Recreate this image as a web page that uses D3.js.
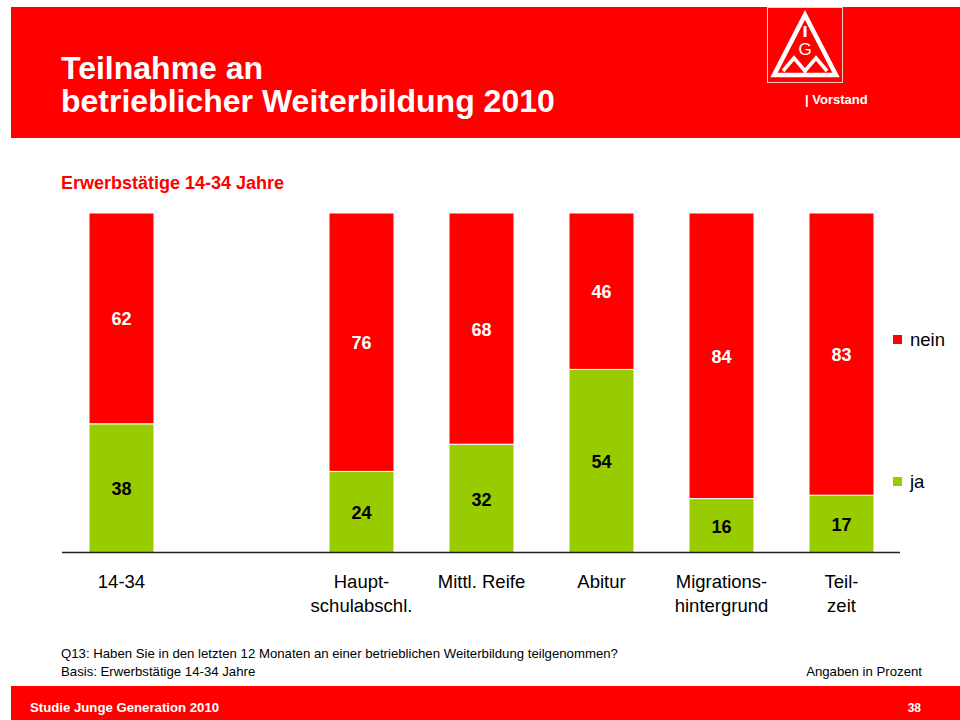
<!DOCTYPE html>
<meta charset="utf-8">
<style>
  body { margin: 0; }
  text { font-family: "Liberation Sans", Arial, sans-serif; }
  .val { font-size: 18px; font-weight: bold; text-anchor: middle; }
  .cat { font-size: 18.5px; fill: #000; text-anchor: middle; }
</style>
<body>
<script src="https://d3js.org/d3.v7.min.js"></script>
<script>

var width = 960,
    height = 720;

var categories = ["14-34", "Haupt-\nschulabschl.", "Mittl. Reife", "Abitur", "Migrations-\nhintergrund", "Teil-\nzeit"];
var ja   = [38, 24, 32, 54, 16, 17];
var nein = [62, 76, 68, 46, 84, 83];
var series = ["nein", "ja"];

var red = "#ff0000",
    green = "#99cc00";

var svg = d3.select("body").append("svg")
  .attr("width", width)
  .attr("height", height);

// header band
svg.append("rect").attr("x", 11).attr("y", 7).attr("width", width - 11).attr("height", 131).attr("fill", red);

svg.append("text").attr("x", 61).attr("y", 79)
  .style("font-size", "32px").style("font-weight", "bold").attr("fill", "#fff")
  .text("Teilnahme an");
svg.append("text").attr("x", 61).attr("y", 112)
  .style("font-size", "32px").style("font-weight", "bold").attr("fill", "#fff")
  .text("betrieblicher Weiterbildung 2010");

// logo
var logo = svg.append("g");
logo.append("rect").attr("x", 767.5).attr("y", 7.5).attr("width", 75).attr("height", 75)
  .attr("fill", "none").attr("stroke", "#fff").attr("stroke-opacity", 0.8).attr("stroke-width", 1);
logo.append("path").attr("d", "M805,15 L836,75 L774,75 Z")
  .attr("fill", "none").attr("stroke", "#fff").attr("stroke-width", 4.5).attr("stroke-linejoin", "miter");
logo.append("rect").attr("x", 803.5).attr("y", 26).attr("width", 3).attr("height", 11).attr("fill", "#fff");
logo.append("text").attr("x", 805).attr("y", 55).attr("text-anchor", "middle")
  .style("font-size", "17px").attr("fill", "#fff").text("G");
logo.append("path").attr("d", "M783,71 L794,58 L805,71 L816,58 L827,71")
  .attr("fill", "none").attr("stroke", "#fff").attr("stroke-width", 3.5);
svg.append("text").attr("x", 805).attr("y", 104)
  .style("font-size", "13px").style("font-weight", "bold").attr("fill", "#fff")
  .text("| Vorstand");

// subtitle
svg.append("text").attr("x", 61).attr("y", 189)
  .style("font-size", "18px").style("font-weight", "bold").attr("fill", red)
  .text("Erwerbstätige 14-34 Jahre");

// scales: an empty slot between the total and the subgroups
var slots = [categories[0], "__gap__"].concat(categories.slice(1));

var x = d3.scaleBand()
  .domain(slots)
  .range([61.5, 901.5])
  .paddingInner(55 / 120)
  .paddingOuter(27.5 / 120);

var y = d3.scaleLinear()
  .domain([0, 100])
  .range([553, 213]);

var rows = categories.map(function(c, i) {
  return { cat: c, ja: ja[i], nein: nein[i] };
});

var stacked = d3.stack().keys(["ja", "nein"])(rows);
var color = { ja: green, nein: red };
var labelColor = { ja: "#000", nein: "#fff" };

stacked.forEach(function(layer) {
  var g = svg.append("g");
  g.selectAll("rect")
    .data(layer)
    .enter().append("rect")
      .attr("x", function(d) { return x(d.data.cat); })
      .attr("width", x.bandwidth())
      .attr("y", function(d) { return y(d[1]); })
      .attr("height", function(d) { return y(d[0]) - y(d[1]); })
      .attr("fill", color[layer.key])
      .attr("stroke", "#fff")
      .attr("stroke-width", 1);
  g.selectAll("text")
    .data(layer)
    .enter().append("text")
      .attr("class", "val")
      .attr("fill", labelColor[layer.key])
      .attr("x", function(d) { return x(d.data.cat) + x.bandwidth() / 2; })
      .attr("y", function(d) { return (y(d[0]) + y(d[1])) / 2 + 7; })
      .text(function(d) { return d.data[layer.key]; });
});

// baseline
svg.append("line")
  .attr("x1", 62).attr("x2", 900)
  .attr("y1", y(0) - 0.5).attr("y2", y(0) - 0.5)
  .attr("stroke", "#222").attr("stroke-width", 1.3);

// category labels
svg.selectAll("text.cat")
  .data(categories)
  .enter().append("text")
    .attr("class", "cat")
    .attr("x", function(d) { return x(d) + x.bandwidth() / 2; })
    .attr("y", 588)
    .each(function(d) {
      var t = d3.select(this);
      d.split("\n").forEach(function(line, i) {
        t.append("tspan")
          .attr("x", x(d) + x.bandwidth() / 2)
          .attr("dy", i === 0 ? 0 : 24)
          .text(line);
      });
    });

// legend
var legend = svg.selectAll("g.legend")
  .data(series)
  .enter().append("g")
    .attr("class", "legend")
    .attr("transform", function(d, i) { return "translate(893," + (335 + i * 142) + ")"; });
legend.append("rect").attr("width", 9).attr("height", 9)
  .attr("fill", function(d) { return d === "ja" ? green : red; });
legend.append("text").attr("x", 17).attr("y", 11)
  .style("font-size", "18.5px").attr("fill", "#000")
  .text(function(d) { return d; });

// notes
svg.append("text").attr("x", 61).attr("y", 658)
  .style("font-size", "13.2px").attr("fill", "#000")
  .text("Q13: Haben Sie in den letzten 12 Monaten an einer betrieblichen Weiterbildung teilgenommen?");
svg.append("text").attr("x", 61).attr("y", 676)
  .style("font-size", "13.2px").attr("fill", "#000")
  .text("Basis: Erwerbstätige 14-34 Jahre");
svg.append("text").attr("x", 922).attr("y", 676).attr("text-anchor", "end")
  .style("font-size", "13.2px").attr("fill", "#000")
  .text("Angaben in Prozent");

// footer band
svg.append("rect").attr("x", 11).attr("y", 686).attr("width", width - 11).attr("height", 34).attr("fill", red);
svg.append("text").attr("x", 30).attr("y", 712)
  .style("font-size", "13.2px").style("font-weight", "bold").attr("fill", "#fff")
  .text("Studie Junge Generation 2010");
svg.append("text").attr("x", 921).attr("y", 712).attr("text-anchor", "end")
  .style("font-size", "12px").style("font-weight", "bold").attr("fill", "#fff")
  .text("38");

</script>
